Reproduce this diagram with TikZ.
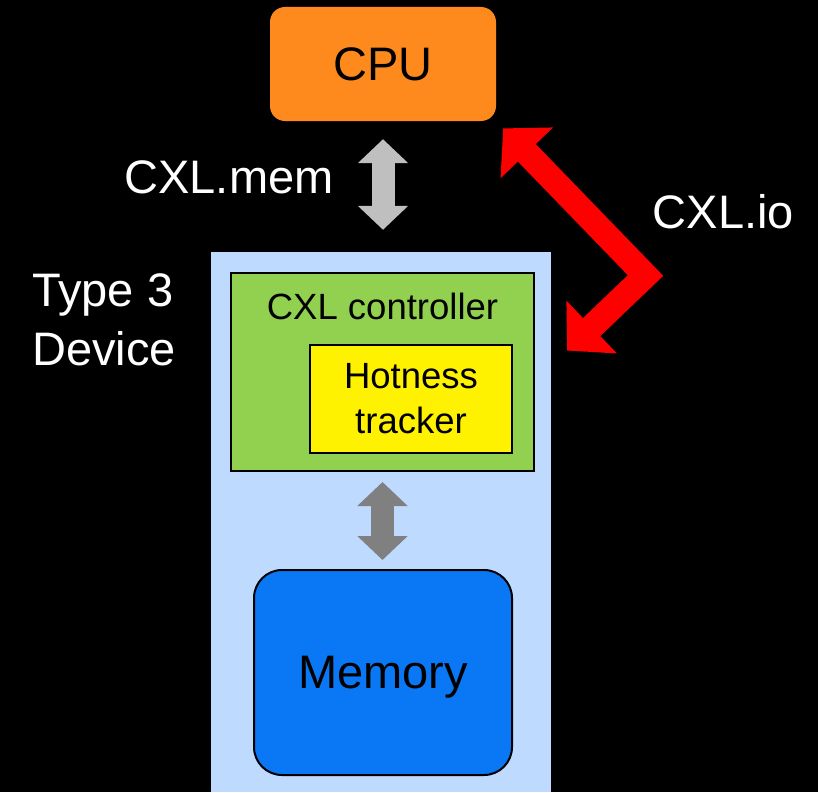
\documentclass[tikz,border=0pt]{standalone}
\usepackage{fontspec}
\setmainfont{Liberation Sans}
\usetikzlibrary{arrows.meta,calc}

\definecolor{cpuorange}{RGB}{254,138,30}
\definecolor{devblue}{RGB}{190,218,255}
\definecolor{ctrlgreen}{RGB}{146,208,80}
\definecolor{memblue}{RGB}{10,120,245}
\definecolor{linkgray}{RGB}{191,191,191}
\definecolor{busgray}{RGB}{128,128,128}

\begin{document}
\begin{tikzpicture}[x=1pt,y=-1pt,
  bigfont/.style={font=\fontsize{47}{59}\selectfont},
  midfont/.style={font=\fontsize{36.5}{45}\selectfont},
  blockarrow/.style={line width=23pt,{Triangle[width=49pt,length=24pt]}-{Triangle[width=49pt,length=24pt]}},
  ioarrow/.style={red,line width=25pt,line join=miter,{Triangle[width=71pt,length=34pt]}-{Triangle[width=71pt,length=34pt]}}]
  \fill[black] (0,0) rectangle (818,792);
  \useasboundingbox (0,0) rectangle (818,792);
  \node[fill=cpuorange,rounded corners=15pt,minimum width=226pt,minimum height=114pt,inner sep=0pt,bigfont] (cpu) at (383,64) {CPU};
  \node[fill=devblue,minimum width=340pt,minimum height=540pt,inner sep=0pt] (dev) at (381,522) {};
  \node[fill=ctrlgreen,draw=black,line width=2pt,minimum width=303pt,minimum height=198pt] (ctrl) at (382.5,372) {};
  \node[midfont,anchor=base] (ctrllabel) at ($(ctrl.north)+(0,47)$) {CXL controller};
  \node[fill=yellow,draw=black,line width=2pt,minimum width=202pt,minimum height=108pt,align=center,midfont] (tracker) at (411,399) {Hotness\\tracker};
  \node[fill=memblue,draw=black,line width=2pt,rounded corners=28pt,minimum width=258pt,minimum height=205pt,text depth=0pt,bigfont] (mem) at (383,672.5) {Memory};
  \coordinate (iobend) at (645.5,275.5);
  \coordinate (devio) at ($(dev.north east)+(0,114)$);
  \draw[blockarrow,linkgray,shorten <=18pt,shorten >=22pt] (cpu.south) -- (cpu.south |- dev.north);
  \draw[blockarrow,busgray,shorten <=10pt,shorten >=9pt] (ctrl.south) -- (ctrl.south |- mem.north);
  \draw[ioarrow,shorten <=10pt,shorten >=22pt] (cpu.south east) -- (iobend) -- (devio);
  \node[bigfont,white,anchor=base] (memlabel) at (229,193) {CXL.mem};
  \node[bigfont,white,anchor=base] (iolabel) at (723.5,228) {CXL.io};
  \node[bigfont,white,align=left,anchor=north west,inner sep=0pt] (devlabel) at (32,273) {Type 3\\Device};
\end{tikzpicture}
\end{document}
